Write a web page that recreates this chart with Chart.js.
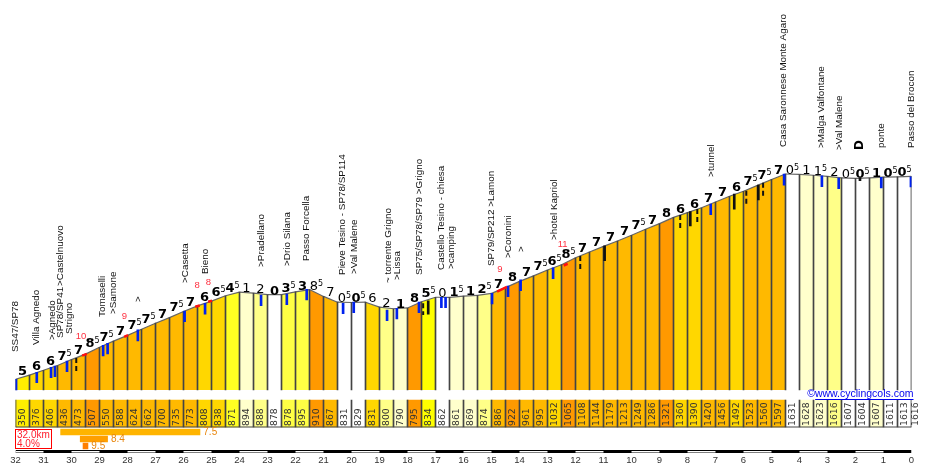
<!DOCTYPE html>
<html><head><meta charset="utf-8">
<style>html,body{margin:0;padding:0;background:#fff}canvas{display:block}</style>
<script src="https://cdn.jsdelivr.net/npm/chart.js@4/dist/chart.umd.min.js"></script>
</head><body><canvas id="c" width="926" height="467"></canvas>
<script>
// km ticks
const kmTicks = [32,31,30,29,28,27,26,25,24,23,22,21,20,19,18,17,16,15,14,13,12,11,10,9,8,7,6,5,4,3,2,1,0];
// elevation at each half km, from km 32 down to km 0
const elevations = [350,376,406,436,473,507,550,588,624,662,700,735,773,808,838,871,894,888,878,878,895,910,867,831,829,831,800,790,795,834,862,861,869,874,886,922,961,995,1032,1065,1108,1144,1179,1213,1249,1286,1321,1360,1390,1420,1456,1492,1523,1560,1597,1631,1628,1623,1616,1607,1604,1607,1611,1613,1616];
// gradient of each half km section
const gradients = [5,6,6,7.5,7,8.5,7.5,7,7.5,7.5,7,7.5,7,6,6.5,4.5,1,2,0,3.5,3,8.5,7,0.5,0.5,6,2,1,8,5.5,0,1.5,1,2.5,7,8,7,7.5,6.5,8.5,7,7,7,7,7.5,7,8,6,6,7,7,6,7.5,7.5,7,0.5,1,1.5,2,0.5,0.5,1,0.5,0.5];
// sections whose gradient label is in regular weight
const regularSections = [16,17,21,22,23,25,26,30,55,56,57,58,59];
// places: text, km, elevation of the label's foot
const placeNames = ["SS47/SP78","Villa Agnedo",">Agnedo","SP78/SP41","Strigno",">Castelnuovo","Tomaselli",">Samone",">",">Casetta","Bieno",">Pradellano",">Drio Silana","Passo Forcella","Pieve Tesino - SP78/SP114",">Val Malene","~ torrente Grigno",">Lissa","SP75/SP78/SP79 >Grigno","Castello Tesino - chiesa",">camping","SP79/SP212 >Lamon",">Coronini",">",">hotel Kapriol",">tunnel","Casa Saronnese Monte Agaro",">Malga Valfontane",">Val Malene","ponte","Passo del Brocon"];
const placeKm = [32.06,31.28,30.74,30.44,30.13,30.44,28.92,28.56,27.66,25.98,25.27,23.27,22.34,21.64,20.35,19.95,18.74,18.39,17.62,16.84,16.48,15.03,14.45,13.96,12.81,7.2,4.6,3.27,2.62,1.10,0.05];
const placeFoot = [520,564,595,608,633,932,739,757,832,951,1007,1051,1057,1088,1001,1007,951,970,1001,1032,1038,1057,1107,1144,1219,1613,1800,1793,1781,1793,1793];
// steep gradient notes
const steepText = ["10","9","8","8","9","11"];
const steepKm = [29.66,28.11,25.51,25.11,14.7,12.46];
const steepElev = [620,740,934,953,1038,1194];
// blue junction ticks
const blueKm = [31.98,31.24,30.73,30.59,30.16,28.87,28.71,27.63,25.96,25.23,23.23,22.31,21.6,20.3,19.92,18.73,18.38,17.59,16.79,16.64,14.98,14.41,13.96,12.8,7.17,4.55,3.2,2.6,1.08,0.02];
const blueTop = [350,394,425,433,464,562,575,658,776,824,876,882,912,824,832,782,793,832,862,862,887,932,970,1045,1444,1631,1619,1606,1610,1614];
const blueFoot = [283,329,360,366,397,495,508,589,709,757,809,816,845,759,766,716,726,766,797,797,820,865,903,978,1377,1562,1552,1539,1544,1550];
// black solid ticks
const blackKm = [17.26,10.96,7.9,6.33,5.47,1.84];
const blackTop = [840,1182,1396,1506,1562,1604];
const blackFoot = [757,1090,1307,1411,1469,1589];
// black dashed ticks
const dashKm = [29.83,17.44,11.83,8.26,7.65,5.9,5.3];
const dashTop = [483,824,1119,1375,1413,1527,1577];
const dashFoot = [391,751,1028,1286,1325,1444,1486];
// steep stretches drawn red on the profile
const redFromKm = [29.62,28.12,25.58,25.12,14.8,12.42];
const redToKm = [29.45,27.98,25.42,24.98,14.45,12.28];
const redFromElev = [498,615,803,834,897,1060];
const redToElev = [509,626,810,840,926,1071];
// summary bars of the steepest stretches
const stretchFrom = [30.4,29.7,29.6];
const stretchTo = [25.4,28.7,29.4];
const stretchGrade = ["7.5","8.4","9.5"];
const stretchColor = ["#ffb400","#ff9f00","#ff7f00"];
const stretchRow = [432,439,446];
const summaryLines = ["32.0km","4.0%"];
const credit = "©www.cyclingcols.com";

function gradeColor(g){
  if(g<1) return "#ffffff";
  if(g<2) return "#ffffcc";
  if(g<3) return "#ffff88";
  if(g<4) return "#ffff44";
  if(g<=4.5) return "#ffff22";
  if(g<5.5) return "#ffee00";
  if(g<6) return "#ffff00";
  if(g<7) return "#ffd700";
  if(g<8) return "#ffb900";
  return "#ff9900";
}
const sectionColors = gradients.map(gradeColor);
const kmAt = i => 32 - i*0.5;
const LINE = "#444444";
const BASE = 283;
const pts = elevations.map((e,i)=>({x:kmAt(i),y:e}));
const ranges = (k,t,f)=>k.map((x,i)=>({x,y:[f[i],t[i]]}));

function gaps(a){const o=[];a.forEach(p=>{o.push(...p,{x:p[p.length-1].x,y:null});});return o;}

const bar=(o)=>Object.assign({type:'bar',grouped:false,borderWidth:0,borderSkipped:false,barThickness:1,backgroundColor:LINE,xAxisID:'x',yAxisID:'y'},o);
const line=(o)=>Object.assign({type:'line',pointRadius:0,tension:0,fill:false,spanGaps:false,xAxisID:'x',yAxisID:'y'},o);

const labelPlugin={id:'labels',afterDatasetsDraw(chart){
  const c=chart.ctx,X=chart.scales.x,Y=chart.scales.y,R=chart.scales.yStrip;
  c.save();
  // gradient labels
  c.textAlign='left';c.textBaseline='alphabetic';
  gradients.forEach((g,i)=>{
    const whole=Math.floor(g),half=g!==whole;
    const weight=regularSections.includes(i)?'':'bold ';
    const cx=X.getPixelForValue(kmAt(i)-0.25);
    const py=Y.getPixelForValue(Math.max(elevations[i],elevations[i+1]));
    c.fillStyle='#000';
    c.font=weight+'13px "DejaVu Sans"';
    const w=c.measureText(String(whole)).width;
    c.font='8px "DejaVu Sans"';
    const w2=half?c.measureText('5').width:0;
    const left=cx-(w+w2)/2;
    c.font=weight+'13px "DejaVu Sans"';
    c.fillText(String(whole),left,py);
    if(half){c.font='8px "DejaVu Sans"';c.fillStyle='#000';c.fillText('5',left+w,py-4);}
  });
  // place names
  c.font='9.9px "Liberation Sans"';c.fillStyle='#111';
  const rot=(t,km,e)=>{c.save();c.translate(X.getPixelForValue(km),Y.getPixelForValue(e));c.rotate(-Math.PI/2);c.textAlign='left';c.textBaseline='middle';c.fillText(t,0,1);c.restore();};
  placeNames.forEach((t,i)=>rot(t,placeKm[i],placeFoot[i]));
  c.font='bold 12px "DejaVu Sans"';c.fillStyle='#000';
  rot("D",1.87,1781);
  // steep notes
  c.font='9.5px "Liberation Sans"';c.fillStyle='#ff3040';c.textAlign='center';c.textBaseline='middle';
  steepText.forEach((t,i)=>c.fillText(t,X.getPixelForValue(steepKm[i]),Y.getPixelForValue(steepElev[i])));
  // elevation values in the band
  c.font='9.3px "DejaVu Sans"';c.fillStyle='#333';
  elevations.forEach((e,i)=>{
    const xx=i<64?kmAt(i)-0.25:kmAt(i)-0.16;
    c.save();c.translate(X.getPixelForValue(xx),R.getPixelForValue(426));c.rotate(-Math.PI/2);c.textAlign='left';c.textBaseline='middle';c.fillText(String(e),0,0);c.restore();
  });
  // stretch grades
  c.font='10px "Liberation Sans"';c.fillStyle='#e8860c';c.textAlign='left';
  stretchGrade.forEach((t,i)=>c.fillText(t,X.getPixelForValue(stretchTo[i])+3,R.getPixelForValue(stretchRow[i])));
  // summary box
  c.strokeStyle='#ff0000';c.lineWidth=1;c.strokeRect(15.5,429.5,36,19);
  c.fillStyle='#ff2030';c.font='10px "Liberation Sans"';
  c.fillText(summaryLines[0],17,R.getPixelForValue(435));
  c.fillText(summaryLines[1],17,R.getPixelForValue(444));
  // credit
  c.fillStyle='#0000ee';c.font='10.5px "Liberation Sans"';c.textAlign='left';
  const cr=X.getPixelForValue(0)+2;
  const w=c.measureText(credit).width;
  c.fillText(credit,cr-w,R.getPixelForValue(394.5));
  c.strokeStyle='#0000ee';c.beginPath();c.moveTo(cr-w+8,399.5);c.lineTo(cr,399.5);c.stroke();
  c.restore();
}};

new Chart(document.getElementById('c'),{
  data:{datasets:[
    // km ruler (first dataset is painted last)
    line({data:gaps(kmTicks.filter(k=>k%2===0&&k>0).map(k=>[{x:k,y:451.7},{x:k-1,y:451.7}])),borderColor:'#fff',borderWidth:1.6,yAxisID:'yStrip'}),
    line({data:[{x:32,y:451.7},{x:0,y:451.7}],borderColor:'#000',borderWidth:3.5,yAxisID:'yStrip'}),
    // red stretches
    line({data:gaps(redFromKm.map((x,i)=>[{x,y:redFromElev[i]},{x:redToKm[i],y:redToElev[i]}])),borderColor:'#ff1010',borderWidth:2.5}),
    // ticks
    bar({data:ranges(blueKm,blueTop,blueFoot),backgroundColor:'#0022ee',barThickness:2}),
    bar({data:ranges(blackKm,blackTop,blackFoot),backgroundColor:'#111',barThickness:2}),
    line({data:gaps(dashKm.map((x,i)=>[{x,y:dashTop[i]},{x,y:dashFoot[i]}])),borderColor:'#111',borderWidth:2,borderDash:[5,3]}),
    // section separators
    bar({data:elevations.map((e,i)=>({x:kmAt(i),y:[BASE,e]}))}),
    // band
    line({data:[{x:32,y:427},{x:0,y:427}],borderColor:LINE,borderWidth:1,yAxisID:'yStrip'}),
    bar({data:elevations.map((e,i)=>({x:kmAt(i),y:[400,427]})),yAxisID:'yStrip'}),
    bar({data:sectionColors.map((col,i)=>({x:kmAt(i)-0.25,y:[400,427]})),backgroundColor:sectionColors,barThickness:14,yAxisID:'yStrip'}),
    // profile
    line({data:pts,order:5,borderColor:'#666666',borderWidth:1.2,fill:{value:BASE},backgroundColor:'#fff',
      segment:{backgroundColor:ctx=>sectionColors[ctx.p0DataIndex]}}),
    // stretch bars
    ...stretchFrom.map((s,i)=>line({data:[{x:s,y:stretchRow[i]},{x:stretchTo[i],y:stretchRow[i]}],borderColor:stretchColor[i],borderWidth:6.5,yAxisID:'yStrip'}))
  ]},
  options:{
    responsive:false,animation:false,
    layout:{padding:{left:15.5,right:14.5,top:0,bottom:0}},
    plugins:{legend:{display:false},tooltip:{enabled:false},title:{display:false}},
    scales:{
      x:{type:'linear',offset:false,min:0,max:32,reverse:true,
        afterFit(s){s.height=14;},
        afterBuildTicks(s){s.ticks=kmTicks.map(v=>({value:v}));},
        grid:{display:false,drawTicks:false,tickLength:0,offset:false},border:{display:false},
        ticks:{autoSkip:false,maxRotation:0,minRotation:0,padding:2,color:'#333',font:{family:'"Liberation Sans"',size:9.5},callback:v=>String(v)}},
      y:{type:'linear',display:false,min:-110,max:2716.7},
      yStrip:{type:'linear',axis:'y',display:false,reverse:true,min:0,max:453,beginAtZero:false}
    }
  },
  plugins:[labelPlugin]
});
</script></body></html>
